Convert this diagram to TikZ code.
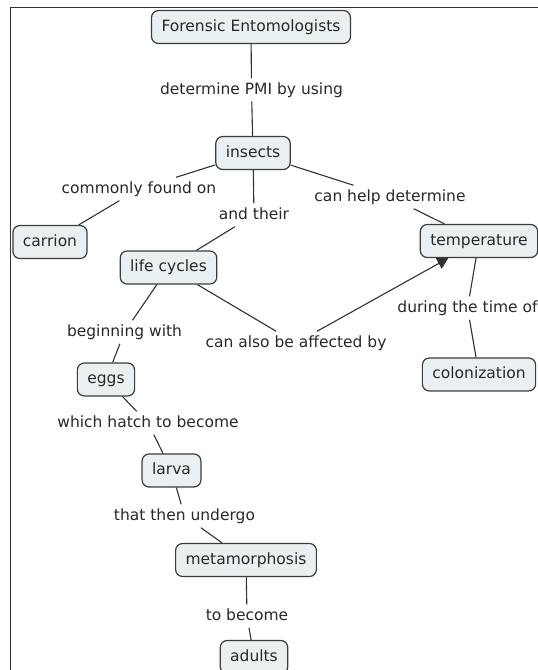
\documentclass[tikz,border=0pt]{standalone}
\usepackage{fontspec}
\setmainfont{DejaVu Sans}
\usepackage{xcolor}
\usepackage{tikz}
\usetikzlibrary{shapes,arrows.meta,positioning,calc}
\definecolor{conceptfill}{RGB}{234, 240, 242}
\definecolor{conceptline}{RGB}{60, 60, 60}
\definecolor{linkgray}{RGB}{50, 50, 50}
\definecolor{textgray}{RGB}{40, 40, 40}

\begin{document}
\begin{tikzpicture}[x=1pt,y=-1pt,
    concept/.style={draw=conceptline,line width=1.2pt,fill=conceptfill,rounded corners=7pt,
      inner xsep=10pt,minimum height=33pt,text height=11.5pt,text depth=3.5pt,text=textgray},
    linkphrase/.style={inner xsep=2pt,inner ysep=4pt,text height=11.5pt,text depth=3.5pt,text=textgray},
    link/.style={linkgray,line width=1.1pt},
    font=\fontsize{15.5}{18}\selectfont]
    \useasboundingbox (0,0) rectangle (538,670);
    \clip (0,0) rectangle (538,670);
    \fill[white] (0,0) rectangle (538,670);

    % Frame of the screenshot
    \draw[linkgray,line width=1.5pt] (10.5,670) -- (10.5,7.5) -- (538,7.5);

    % Concepts
    \node[concept] (fe) at (251,27) {Forensic Entomologists};
    \node[concept] (ins) at (253,153) {insects};
    \node[concept] (car) at (50,242) {carrion};
    \node[concept] (lc) at (168.5,267.5) {life cycles};
    \node[concept] (temp) at (479,241) {temperature};
    \node[concept] (col) at (479,374.5) {colonization};
    \node[concept] (eggs) at (106,379.5) {eggs};
    \node[concept] (larva) at (171.5,470.5) {larva};
    \node[concept] (meta) at (246,560) {metamorphosis};
    \node[concept] (adults) at (254,657) {adults};

    % Linking phrases
    \node[linkphrase] (pmi) at (251.5,90) {determine PMI by using};
    \node[linkphrase] (found) at (139,189) {commonly found on};
    \node[linkphrase] (their) at (254,215) {and their};
    \node[linkphrase] (help) at (390,197) {can help determine};
    \node[linkphrase] (during) at (467.5,308) {during the time of};
    \node[linkphrase] (begin) at (124.5,332) {beginning with};
    \node[linkphrase] (affect) at (296,343) {can also be affected by};
    \node[linkphrase] (hatch) at (148,423) {which hatch to become};
    \node[linkphrase] (undergo) at (184.5,516) {that then undergo};
    \node[linkphrase] (become) at (247,616) {to become};

    % Connections
    \draw[link] (fe) -- (pmi) -- (ins);
    \draw[link] (ins) -- (found) -- (car);
    \draw[link] (ins) -- (their) -- (lc);
    \draw[link] (ins) -- (help) -- (temp);
    \draw[link] (temp) -- (during) -- (col);
    \draw[link] (lc) -- (begin) -- (eggs);
    \draw[link] (lc) -- (affect);
    \draw[link,-{Triangle[width=12pt,length=11pt]}] (affect) -- (temp);
    \draw[link] (eggs) -- (hatch) -- (larva);
    \draw[link] (larva) -- (undergo) -- (meta);
    \draw[link] (meta) -- (become) -- (adults);
\end{tikzpicture}
\end{document}
